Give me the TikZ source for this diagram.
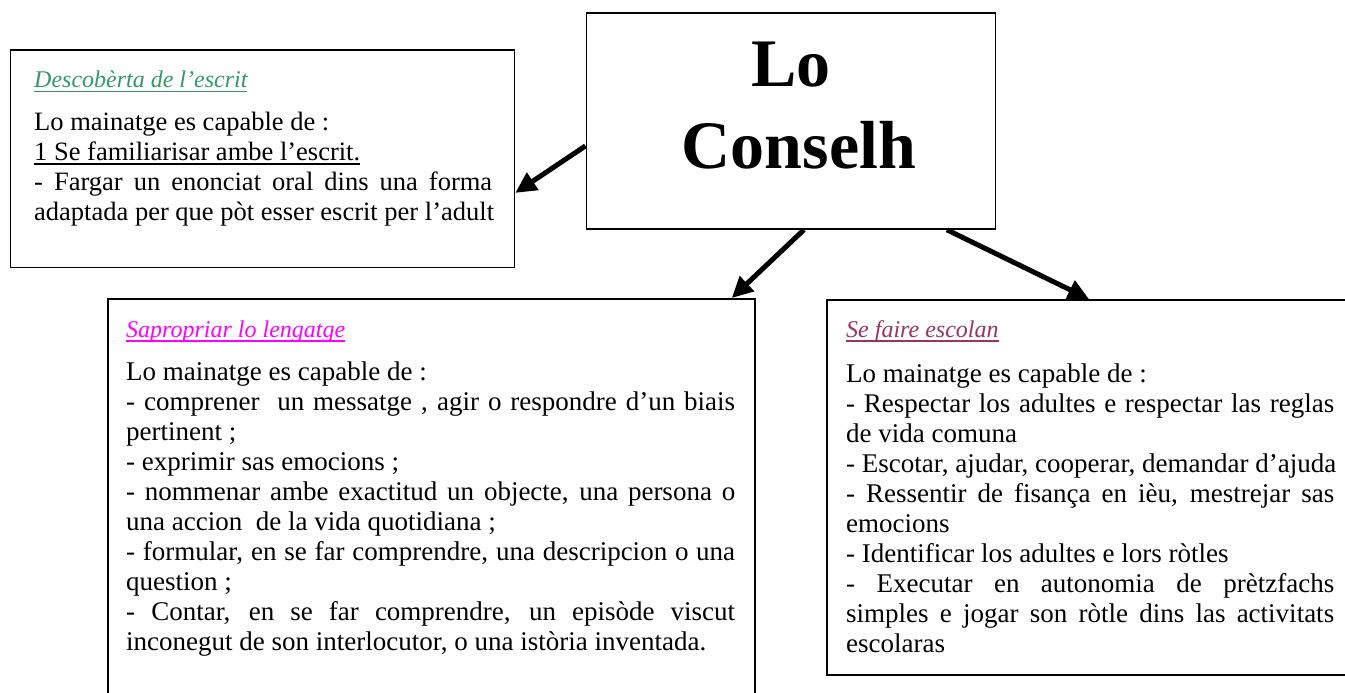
\documentclass[tikz,border=0pt]{standalone}
\usepackage{fontspec}
\setmainfont{Liberation Serif}
\usetikzlibrary{arrows.meta}
\definecolor{tgreen}{HTML}{339966}
\definecolor{tmag}{HTML}{FF00FF}
\definecolor{tplum}{HTML}{993366}
\newcommand{\J}[1]{\makebox[\linewidth][s]{\spaceskip=0pt\xspaceskip=0pt #1}}
\newcommand{\firstline}{\spaceskip=0pt\xspaceskip=0pt\rule{0pt}{22pt}}
\newlength{\myulw}
\newcommand{\myul}[1]{\settowidth{\myulw}{#1}\leavevmode\rlap{\rule[-4.5pt]{\myulw}{1.6pt}}#1}
\begin{document}
\begin{tikzpicture}[x=1pt,y=-1pt,
  framebox/.style={draw=black, line width=1.8pt, inner sep=0pt, anchor=north west},
  txt/.style={anchor=north west, inner sep=0pt, font=\fontsize{26.5}{30}\selectfont},
  txtb/.style={anchor=north west, inner sep=0pt, font=\fontsize{27}{30}\selectfont},
  ttl/.style={anchor=base west, inner sep=0pt, font=\fontsize{24}{30}\selectfont\itshape},
  big/.style={anchor=base, inner sep=0pt, font=\fontsize{68}{81}\selectfont\bfseries},
  arr/.style={line width=5pt, -{Triangle[length=21pt,width=20pt]}}]
\useasboundingbox (0,0) rectangle (1345,693);
\clip (0,0) rectangle (1345,693);

% boxes
\node[framebox, minimum width=504pt, minimum height=217pt] (b1) at (9.5,49.5) {};
\node[framebox, minimum width=409pt, minimum height=216pt] (cons) at (585.5,12) {};
\node[framebox, minimum width=647pt, minimum height=422pt] (b2) at (107,298) {};
\node[framebox, minimum width=544pt, minimum height=375pt] (b3) at (826,299) {};

% central title
\node[big] (lo) at (791,87) {Lo};
\node[big] (cn) at (799,168) {Conselh};

% titles
\node[ttl, text=tgreen] (h1) at (34,88) {\myul{Descobèrta de l’escrit}};
\node[ttl, text=tmag] (h2) at (126,337) {\myul{Sapropriar lo lengatge}};
\node[ttl, text=tplum] (h3) at (846,337) {\myul{Se faire escolan}};

% texts
\node[txt, text width=458pt] (t1) at (34,108) {\firstline Lo mainatge es capable de :\\
\myul{1 Se familiarisar ambe l’escrit.}\\
\J{- Fargar un enonciat oral dins una forma}\\
\mbox{adaptada per que pòt esser escrit per l’adult}};

\node[txtb, text width=609pt] (t2) at (126,358) {\firstline Lo mainatge es capable de :\\
\J{- comprener\ \ un messatge , agir o respondre d’un biais}\\
pertinent ;\\
- exprimir sas emocions ;\\
\J{- nommenar ambe exactitud un objecte, una persona o}\\
una accion\ \ de la vida quotidiana ;\\
\J{- formular, en se far comprendre, una descripcion o una}\\
question ;\\
\J{- Contar, en se far comprendre, un episòde viscut}\\
\mbox{inconegut de son interlocutor, o una istòria inventada.}};

\node[txtb, text width=488pt] (t3) at (846,360) {\firstline Lo mainatge es capable de :\\
\J{- Respectar los adultes e respectar las reglas}\\
de vida comuna\\
\mbox{- Escotar, ajudar, cooperar, demandar d’ajuda}\\
\J{- Ressentir de fisança en ièu, mestrejar sas}\\
emocions\\
- Identificar los adultes e lors ròtles\\
\J{- Executar en autonomia de prètzfachs}\\
\J{simples e jogar son ròtle dins las activitats}\\
escolaras};

% arrows
\draw[arr] ([yshift=-25pt]cons.west) -- ([yshift=-34pt]b1.east);
\draw[arr] ([xshift=13pt]cons.south) -- ([xshift=-24pt]b2.north east);
\draw[arr] ([xshift=156pt]cons.south) -- ([xshift=263pt]b3.north west);
\end{tikzpicture}
\end{document}
